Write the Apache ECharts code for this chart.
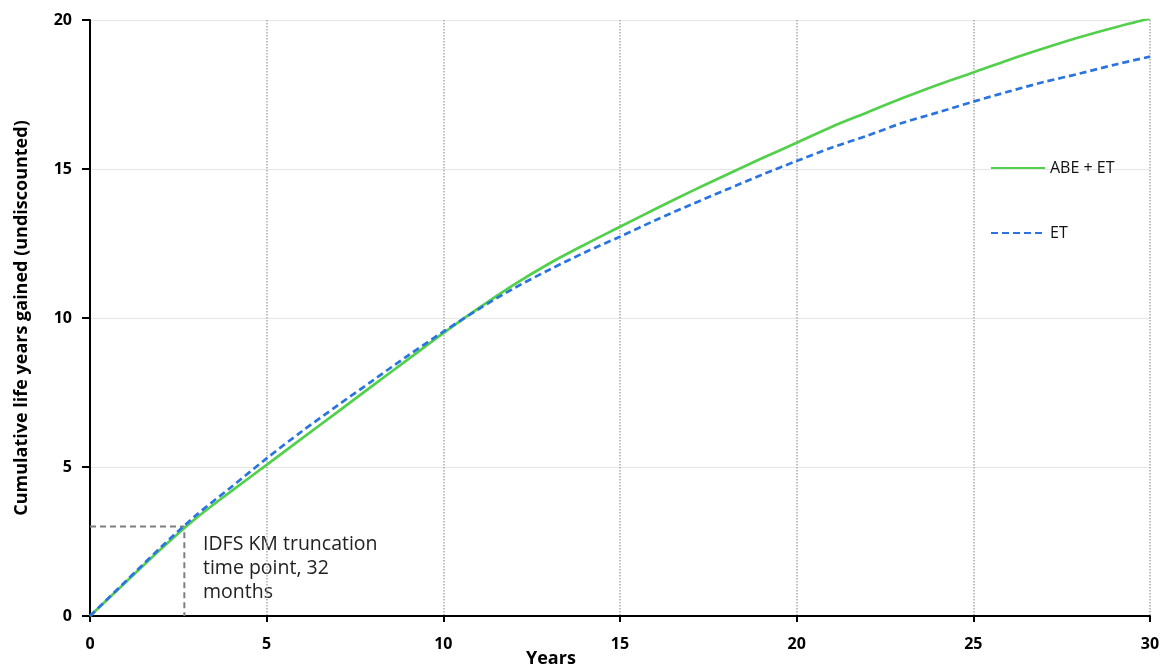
<!DOCTYPE html>
<html>
<head>
<meta charset="utf-8">
<script src="https://cdn.jsdelivr.net/npm/echarts@6/dist/echarts.min.js"></script>
<style>html,body{margin:0;padding:0;background:#fff}#c{width:1164px;height:672px}</style>
</head>
<body>
<div id="c"></div>
<script>
const years = [0,1,2,3,4,5,6,7,8,9,10,11,12,13,14,15,16,17,18,19,20,21,22,23,24,25,26,27,28,29,30];
const abeEt = [0,1.12,2.24,3.28,4.19,5.07,5.96,6.84,7.73,8.61,9.49,10.33,11.12,11.83,12.46,13.06,13.66,14.24,14.8,15.35,15.88,16.42,16.9,17.38,17.83,18.24,18.66,19.05,19.42,19.75,20.05];
const et = [0,1.15,2.3,3.38,4.33,5.29,6.2,7.06,7.9,8.74,9.54,10.3,11.0,11.62,12.2,12.73,13.28,13.8,14.3,14.8,15.27,15.72,16.12,16.55,16.9,17.26,17.6,17.92,18.2,18.5,18.77];
const truncX = [0, 2.67, 2.67];
const truncY = [3, 3, 0];
const xTicks = [0,5,10,15,20,25,30];
const yTicks = [0,5,10,15,20];

const font = '"Open Sans", "Noto Sans", sans-serif';
const chart = echarts.init(document.getElementById('c'));
chart.setOption({
  animation: false,
  grid: {left: 90, right: 14, top: 20, bottom: 56},
  legend: {
    orient: 'vertical', left: 985, top: 155, itemGap: 49, itemWidth: 54, itemHeight: 14,
    itemStyle: {opacity: 0},
    textStyle: {fontFamily: font, fontSize: 16, color: '#111'},
    data: ['ABE + ET', 'ET']
  },
  xAxis: {
    type: 'value', min: 0, max: 30, interval: 5,
    axisLine: {lineStyle: {color: '#000', width: 2}},
    axisTick: {show: true, length: 6, lineStyle: {color: '#000', width: 2}},
    axisLabel: {fontFamily: font, fontSize: 16, fontWeight: 'bold', color: '#000', margin: 20,
      formatter: v => xTicks.includes(v) ? String(v) : ''},
    splitLine: {show: true, lineStyle: {color: '#aaa', type: 'dotted', width: 1.5}}
  },
  yAxis: {
    type: 'value', min: 0, max: 20, interval: 5,
    name: 'Cumulative life years gained (undiscounted)', nameLocation: 'middle', nameGap: 59,
    nameTextStyle: {fontFamily: font, fontSize: 18, fontWeight: 'bold', color: '#000'},
    axisLine: {show: true, lineStyle: {color: '#000', width: 2}},
    axisTick: {show: true, length: 8, lineStyle: {color: '#000', width: 2}},
    axisLabel: {fontFamily: font, fontSize: 16, fontWeight: 'bold', color: '#000', margin: 18,
      formatter: v => yTicks.includes(v) ? String(v) : ''},
    splitLine: {show: true, lineStyle: {color: '#e6e6e6', width: 1}}
  },
  series: [
    {name: 'Truncation', type: 'line', data: truncX.map((x, i) => [x, truncY[i]]), symbol: 'none',
      lineStyle: {color: '#7f7f7f', width: 2, type: [6, 4]}, z: 1, silent: true},
    {name: 'ABE + ET', type: 'line', data: years.map((x, i) => [x, abeEt[i]]), symbol: 'none', smooth: 0.3,
      lineStyle: {color: '#52d04c', width: 2.7}, itemStyle: {color: '#52d04c'}, z: 3},
    {name: 'ET', type: 'line', data: years.map((x, i) => [x, et[i]]), symbol: 'none', smooth: 0.3,
      lineStyle: {color: '#2a74e0', width: 2.7, type: [7, 4]}, itemStyle: {color: '#2a74e0'}, z: 4}
  ],
  graphic: [
    {type: 'text', left: 203, top: 532, style: {text: 'IDFS KM truncation\ntime point, 32\nmonths',
      font: '19.5px ' + font, fill: '#222', lineHeight: 24}},
    {type: 'text', left: 526, top: 650, style: {text: 'Years', font: 'bold 18px ' + font, fill: '#000'}}
  ]
});
</script>
</body>
</html>
